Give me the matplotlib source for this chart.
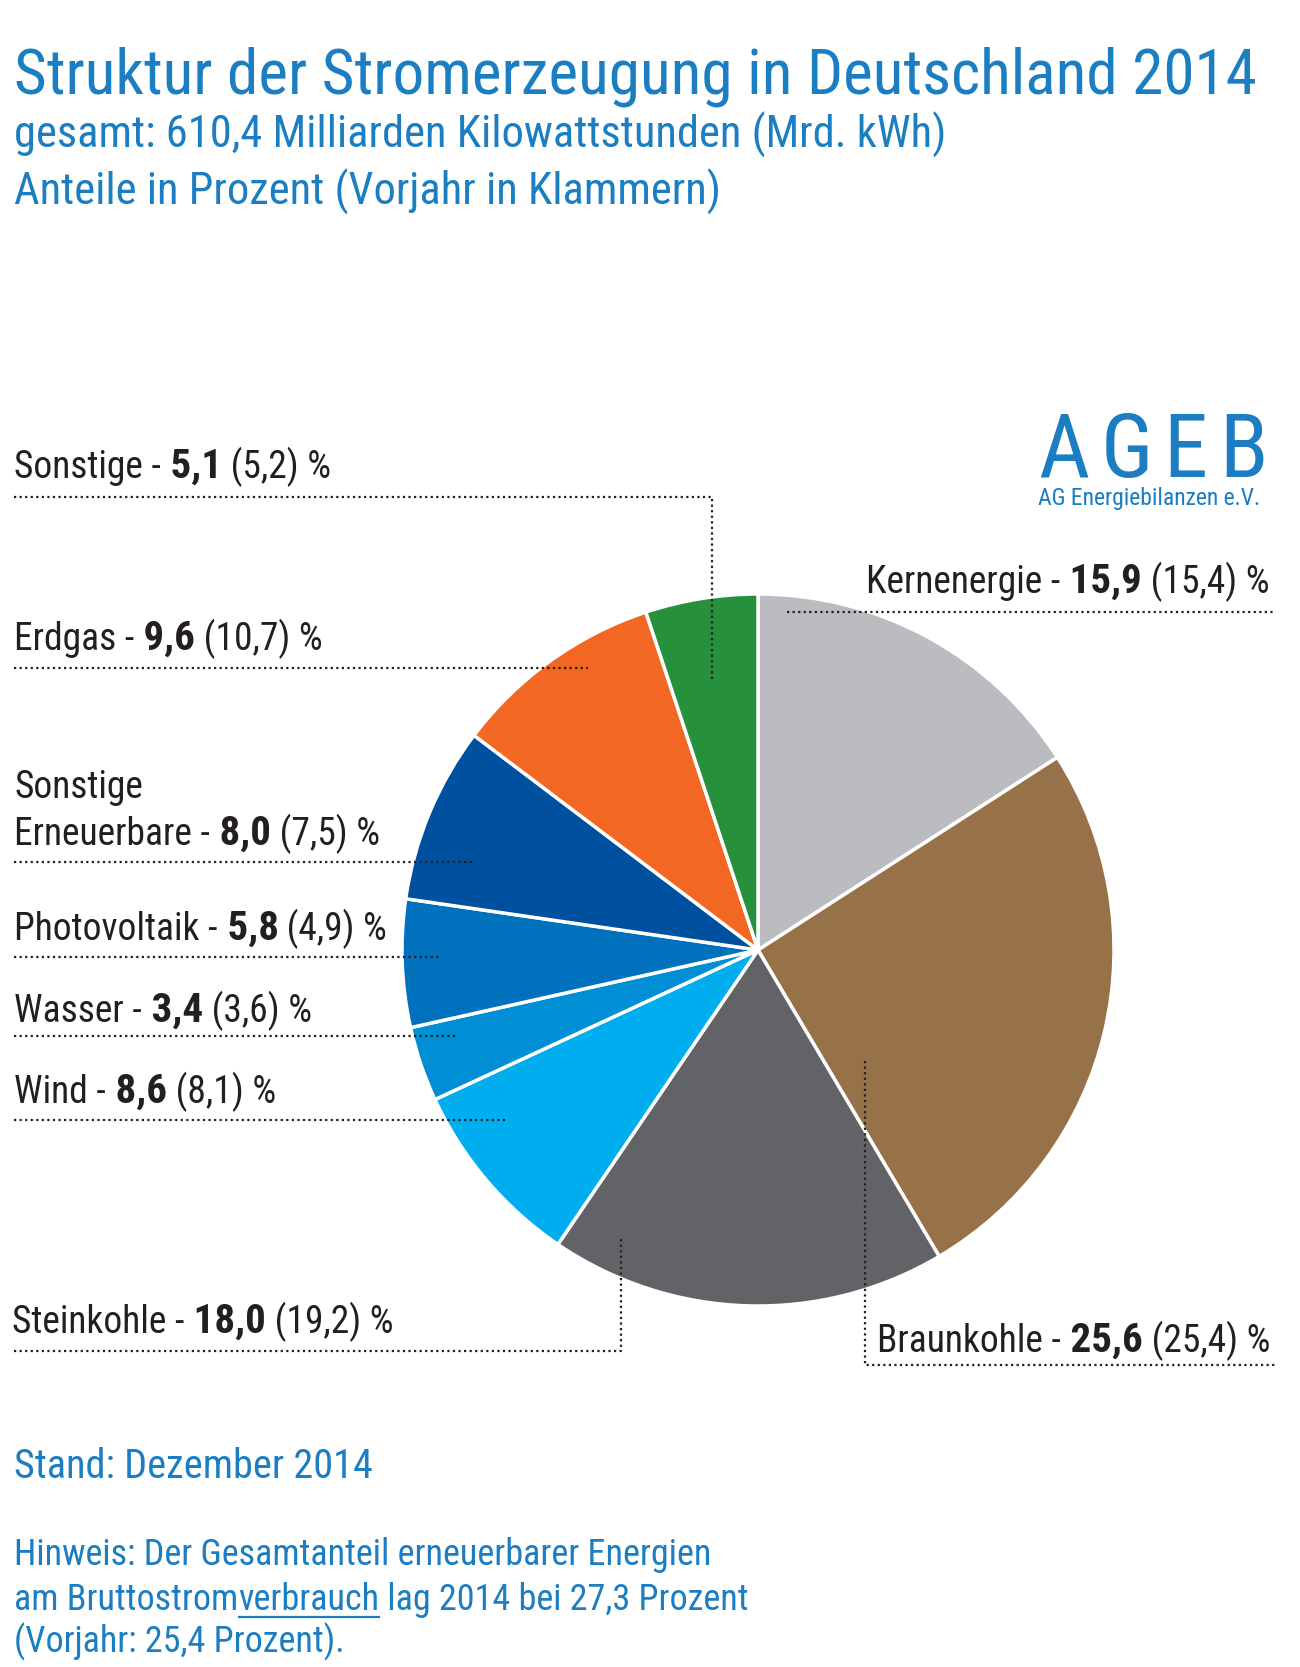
import matplotlib
matplotlib.use('Agg')
import matplotlib.pyplot as plt
from matplotlib import font_manager as fm

# Anteile an der Bruttostromerzeugung 2014 (Vorjahr 2013), im Uhrzeigersinn ab 12 Uhr
categories = ['Kernenergie', 'Braunkohle', 'Steinkohle', 'Wind', 'Wasser',
              'Photovoltaik', 'Sonstige Erneuerbare', 'Erdgas', 'Sonstige']
shares_2014 = [15.9, 25.6, 18.0, 8.6, 3.4, 5.8, 8.0, 9.6, 5.1]
shares_2013 = [15.4, 25.4, 19.2, 8.1, 3.6, 4.9, 7.5, 10.7, 5.2]
colors = ['#bbbcbf', '#977249', '#626366', '#00aeef', '#008fd5',
          '#0071bc', '#0050a0', '#f26722', '#27903d']

W, H = 1300, 1667
BLUE = '#1b7dc2'
DARK = '#231f20'

# schmale Schrift, falls vorhanden
names = {f.name for f in fm.fontManager.ttflist}
family = 'DejaVu Sans'
for cand in ['Roboto Condensed', 'Liberation Sans Narrow', 'Open Sans Condensed', 'DejaVu Sans']:
    if cand in names:
        family = cand
        break
plt.rcParams['font.family'] = [family, 'DejaVu Sans']

fig = plt.figure(figsize=(W / 100, H / 100), dpi=100)

# Kreis
cx, cy, r = 758, 950, 356
pie_ax = fig.add_axes([(cx - r) / W, (H - cy - r) / H, 2 * r / W, 2 * r / H])
pie_ax.pie(shares_2014, colors=colors, startangle=90, counterclock=False,
           wedgeprops=dict(edgecolor='white', linewidth=2.5))
pie_ax.set_xlim(-1, 1)
pie_ax.set_ylim(-1, 1)
pie_ax.axis('off')

# Overlay in Pixelkoordinaten (y von oben)
ax = fig.add_axes([0, 0, 1, 1])
ax.set_xlim(0, W)
ax.set_ylim(H, 0)
ax.axis('off')
ax.patch.set_alpha(0)

renderer = fig.canvas.get_renderer()


def rich(x, y, parts, size, color=DARK):
    for part in parts:
        s, w = part[0], part[1]
        fs = part[2] if len(part) > 2 else size
        t = ax.text(x, y, s, fontsize=fs, fontweight=w, color=color, va='baseline', ha='left')
        x += t.get_window_extent(renderer).width
    return x


def fmt(v):
    return f'{v:.1f}'.replace('.', ',')


# Titel
ax.text(14, 93, 'Struktur der Stromerzeugung in Deutschland 2014', fontsize=45.5, color=BLUE, va='baseline')
ax.text(14, 148, 'gesamt: 610,4 Milliarden Kilowattstunden (Mrd. kWh)', fontsize=32, color=BLUE, va='baseline')
ax.text(14, 205, 'Anteile in Prozent (Vorjahr in Klammern)', fontsize=32, color=BLUE, va='baseline')

# Logo (gesperrt)
lx = 1038
for ch in 'AGEB':
    t = ax.text(lx, 477, ch, fontsize=64, color=BLUE, va='baseline')
    lx += t.get_window_extent(renderer).width + 11
ax.text(1038, 505, 'AG Energiebilanzen e.V.', fontsize=17, color=BLUE, va='baseline')

# Beschriftungen: Textposition (x, Grundlinie) und Führungslinie
label_pos = {
    'Kernenergie': (866, 593, [(787, 612), (1273, 612)]),
    'Braunkohle': (877, 1352, [(865, 1061), (865, 1365), (1275, 1365)]),
    'Steinkohle': (12, 1333, [(14, 1351), (621, 1351), (621, 1238)]),
    'Wind': (14, 1103, [(14, 1120), (505, 1120)]),
    'Wasser': (14, 1022, [(14, 1036), (455, 1036)]),
    'Photovoltaik': (14, 940, [(14, 957), (442, 957)]),
    'Sonstige Erneuerbare': (14, 845, [(14, 862), (473, 862)]),
    'Erdgas': (14, 650, [(14, 668), (588, 668)]),
    'Sonstige': (14, 478, [(14, 497), (712, 497), (712, 680)]),
}

lab_size = 27
for name, v, v0 in zip(categories, shares_2014, shares_2013):
    x, y, pts = label_pos[name]
    shown = name
    if name == 'Sonstige Erneuerbare':
        ax.text(x, y - 47, 'Sonstige', fontsize=lab_size, color=DARK, va='baseline')
        shown = 'Erneuerbare'
    rich(x, y, [(shown + ' -', 'normal'), (' ' + fmt(v), 'bold', 29.5), (f' ({fmt(v0)}) %', 'normal')], lab_size)
    xs, ys = zip(*pts)
    ax.plot(xs, ys, color=DARK, lw=1.6, linestyle=(0, (1, 1.5)))

# Fußnoten
ax.text(14, 1478, 'Stand: Dezember 2014', fontsize=29, color=BLUE, va='baseline')
ax.text(14, 1565, 'Hinweis: Der Gesamtanteil erneuerbarer Energien', fontsize=26, color=BLUE, va='baseline')
x_end = rich(14, 1610, [('am Bruttostrom', 'normal')], 26, BLUE)
x_u = rich(x_end, 1610, [('verbrauch', 'normal')], 26, BLUE)
ax.plot([x_end + 1, x_u], [1617, 1617], color=BLUE, lw=1.6)
rich(x_u, 1610, [(' lag 2014 bei 27,3 Prozent', 'normal')], 26, BLUE)
ax.text(14, 1652, '(Vorjahr: 25,4 Prozent).', fontsize=26, color=BLUE, va='baseline')

fig.savefig('out.png', dpi=100)
